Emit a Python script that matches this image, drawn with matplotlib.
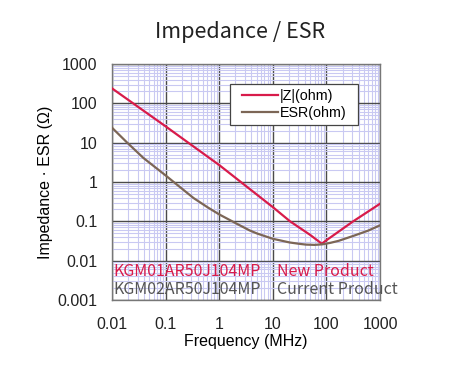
"""Impedance / ESR chart: |Z| and ESR vs frequency, log-log."""
import matplotlib
matplotlib.use("Agg")
import matplotlib.pyplot as plt
from matplotlib.legend_handler import HandlerLine2D
from matplotlib.ticker import LogLocator, FixedLocator, NullFormatter

# values
freq_z = [0.01, 0.1, 1, 10, 21, 50, 82, 100, 316, 1000]
z_ohm = [240, 26, 2.7, 0.23, 0.1, 0.045, 0.027, 0.033, 0.1, 0.28]

freq_esr = [0.01, 0.0188, 0.0384, 0.1, 0.164, 0.333, 0.6, 1, 2.09, 3.67, 5.1,
            10, 20.7, 30, 41.5, 60, 84, 120, 170, 340, 600, 1000]
esr_ohm = [24, 10.3, 4.1, 1.47, 0.85, 0.39, 0.23, 0.15, 0.088, 0.059, 0.049,
           0.036, 0.029, 0.027, 0.0256, 0.0252, 0.026, 0.0285, 0.032, 0.044,
           0.058, 0.079]

x_ticks = [0.01, 0.1, 1, 10, 100, 1000]
x_labels = ["0.01", "0.1", "1", "10", "100", "1000"]
y_ticks = [0.001, 0.01, 0.1, 1, 10, 100, 1000]
y_labels = ["0.001", "0.01", "0.1", "1", "10", "100", "1000"]

RED = "#d81b4a"
BROWN = "#7c6656"
GRAY = "#555555"

plt.rcParams["font.family"] = ["Liberation Sans", "DejaVu Sans"]

fig = plt.figure(figsize=(4.74, 3.79), dpi=100)
ax = fig.add_axes([112 / 474, 1 - 300 / 379, 268 / 474, 236 / 379])

l1, = ax.plot(freq_z, z_ohm, color=RED, lw=1.6, label="|Z|(ohm)", zorder=3)
l2, = ax.plot(freq_esr, esr_ohm, color=BROWN, lw=1.6, label="ESR(ohm)", zorder=3,
              solid_joinstyle="round")

ax.set_xscale("log")
ax.set_yscale("log")
ax.set_xlim(0.01, 1000)
ax.set_ylim(0.001, 1000)

ax.xaxis.set_major_locator(FixedLocator(x_ticks))
ax.set_xticklabels(x_labels)
ax.yaxis.set_major_locator(FixedLocator(y_ticks))
ax.set_yticklabels(y_labels)
for a in (ax.xaxis, ax.yaxis):
    a.set_minor_locator(LogLocator(base=10, subs=range(2, 10), numticks=20))
    a.set_minor_formatter(NullFormatter())

ax.grid(True, which="minor", color="#c9c9f2", lw=0.8, zorder=0)
ax.grid(True, which="major", color="#4a4a4a", lw=1.0, zorder=1)
ax.tick_params(which="both", length=0, labelsize=11.5, colors="#222222")
ax.tick_params(axis="x", pad=12.5)
ax.tick_params(axis="y", pad=10.5)
for s in ax.spines.values():
    s.set_color("#777777")
    s.set_linewidth(1.0)

ax.set_xlabel("Frequency (MHz)", fontsize=11.5, labelpad=1)
ax.set_ylabel("Impedance \u00b7 ESR (\u03a9)", fontsize=11.5, labelpad=3)

fig.text(0.507, 1 - 32 / 379, "Impedance / ESR", ha="center", va="center",
         fontsize=15.5, family=["Noto Sans CJK JP", "DejaVu Sans"], color="#222222")

# legend box spans x 230..358 px, y 84..123 px in the reference
hmap = {l1: HandlerLine2D(xpad=0.5), l2: HandlerLine2D(xpad=0.5)}
leg = ax.legend(handles=[l1, l2], handler_map=hmap, loc="upper left",
                bbox_to_anchor=((230 - 112) / 268, (300 - 123) / 236, 128 / 268, 39 / 236),
                mode="expand", fontsize=10.3, frameon=True, fancybox=False,
                handlelength=3.0, handletextpad=0.15, borderpad=0.35,
                labelspacing=0.2, borderaxespad=0)
leg.get_frame().set_edgecolor("#444444")
leg.get_frame().set_linewidth(0.9)
leg.get_frame().set_facecolor("white")
leg.get_frame().set_alpha(1)

cjk = ["Noto Sans CJK JP", "DejaVu Sans"]
fig.text(113 / 474, 1 - 271.5 / 379, "KGM01AR50J104MP", color=RED, fontsize=11.5,
         family=cjk, va="center", ha="left")
fig.text(277 / 474, 1 - 271.5 / 379, "New Product", color=RED, fontsize=11.5,
         family=cjk, va="center", ha="left")
fig.text(113 / 474, 1 - 289.5 / 379, "KGM02AR50J104MP", color=GRAY, fontsize=11.5,
         family=cjk, va="center", ha="left")
fig.text(277 / 474, 1 - 289.5 / 379, "Current Product", color=GRAY, fontsize=11.5,
         family=cjk, va="center", ha="left")

fig.savefig("out.png", dpi=100, facecolor="white")
